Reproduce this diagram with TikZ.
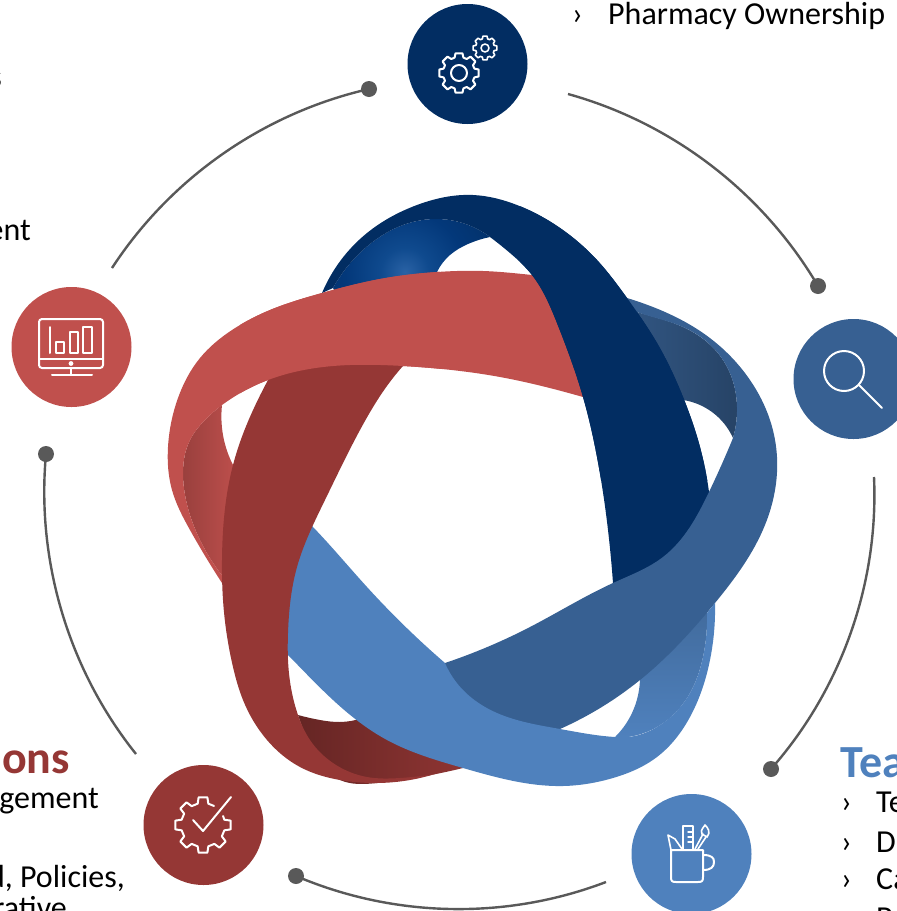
\documentclass[tikz,border=0pt]{standalone}
\usepackage{fontspec}
\setmainfont{Carlito}
\usetikzlibrary{shadings,hobby}
\definecolor{navyband}{HTML}{022D62}
\definecolor{steelband}{HTML}{376092}
\definecolor{blueband}{HTML}{4F81BD}
\definecolor{redband}{HTML}{C0504D}
\definecolor{darkband}{HTML}{953735}
\definecolor{ringgrey}{HTML}{595959}
\definecolor{navyA}{HTML}{2A62A5}
\definecolor{navyB}{HTML}{0F4A8E}
\definecolor{navyC}{HTML}{03387A}
\definecolor{navyD}{HTML}{032C5C}
\definecolor{navyE}{HTML}{021C3E}
\pgfdeclareradialshading{navyspot}{\pgfpointorigin}{color(0bp)=(navyA); color(6bp)=(navyB); color(15bp)=(navyC); color(32bp)=(navyD); color(50bp)=(navyE)}
\tikzset{
  ring/.style={draw=ringgrey,line width=2.4pt},
  dotmark/.style={circle,fill=ringgrey,minimum size=16pt,inner sep=0pt},
  badge/.style={circle,minimum size=120pt,inner sep=0pt},
  icon/.style={draw=white,line width=2pt,line join=round,line cap=round},
  txt/.style={inner sep=0pt,font=\fontsize{32}{34}\selectfont,text=black},
  headtxt/.style={inner sep=0pt,font=\fontsize{46}{48}\selectfont\bfseries}
}
\def\redpath{(560,278) .. (532,275) .. (483,271) .. (437,272) .. (380,279) .. (322,293) .. (270,310) .. (232,330) .. (200,358) .. (178,398) .. (168,447) .. (172,490) .. (190,530) .. (222,583) -- (224,578) .. (200,540) .. (186,500) .. (183,473) .. (190,440) .. (205,420) .. (222,405) -- (222,405) .. (268,380) .. (350,365) .. (403,366) .. (500,377) .. (583,397) .. (620,408) -- cycle}
\def\navypath{(322,293) .. (367,233) .. (417,205) .. (473,195) .. (517,205) .. (567,233) .. (597,260) .. (627,298) .. (657,343) .. (683,397) .. (700,447) .. (709,492) -- (705,560) -- (620,600) -- (613,590) -- (613,583) .. (608,530) .. (597,457) .. (583,397) .. (557,323) .. (532,275) .. (510,253) .. (490,237) -- (490,237) .. (437,219) .. (403,225) .. (363,250) .. (333,288) -- cycle}
\begin{document}
\begin{tikzpicture}[x=1pt,y=-1pt,use Hobby shortcut]
\useasboundingbox (0,0) rectangle (897,911);
\clip (0,0) rectangle (897,911);
% back (shaded) faces of the ribbons
\begin{scope}
\clip (333,288) .. (363,250) .. (403,225) .. (437,219) .. (490,237) -- (490,237) .. (468,244) .. (450,255) .. (437,272) -- (420,290) -- (340,300) -- cycle;
\shade[shading=navyspot] (405,272) circle (100);
\end{scope}
\shade[left color=redband!80!black,right color=redband] (222,405) .. (224,440) .. (233,465) -- (240,470) -- (235,590) -- (222,583) -- (224,578) .. (200,540) .. (186,500) .. (183,473) .. (190,440) .. (205,420) .. (222,405) -- cycle;
\shade[left color=steelband!90!black,right color=steelband!70!black] (625,308) .. (637,312) .. (683,327) .. (723,360) .. (737,407) .. (733,438) -- (733,438) .. (712,412) .. (683,400) -- (660,395) -- cycle;
\shade[shading angle=60,top color=blueband!82!black,bottom color=blueband] (615,737) .. (630,717) .. (639,690) .. (640,675) -- (700,600) -- (707,613) .. (703,657) .. (690,693) .. (657,727) .. (628,737) -- cycle;
\shade[left color=darkband!68!black,right color=darkband] (298,715) .. (320,720) .. (340,722) .. (363,718) .. (385,708) -- (490,750) -- (463,768) .. (420,777) .. (377,783) .. (340,780) .. (310,745) .. (298,715) -- cycle;
% front faces
\fill[redband] \redpath;
\fill[navyband] \navypath;
\fill[steelband] (605,292) .. (627,298) .. (665,312) .. (703,333) .. (750,380) .. (770,420) .. (777,457) .. (765,525) .. (715,603) .. (640,680) .. (560,729) -- (500,735) -- (430,672) -- (445,663) .. (530,627) .. (613,583) .. (663,557) .. (709,492) .. (733,438) -- (733,438) .. (737,407) .. (723,360) .. (683,327) .. (637,312) .. (625,307) -- cycle;
\begin{scope}
\clip (520,190) rectangle (715,480);
\fill[navyband] \navypath;
\end{scope}
\fill[blueband] (298,512) .. (313,527) .. (367,587) .. (445,663) -- (445,663) .. (463,690) .. (497,713) .. (560,729) .. (615,737) .. (628,737) .. (657,727) .. (690,693) .. (703,657) .. (707,613) -- (715,603) .. (710,660) .. (690,717) .. (657,757) .. (613,778) .. (563,786) .. (463,768) .. (387,740) .. (333,700) .. (288,655) .. (268,635) -- cycle;
\fill[darkband] (285,350) .. (268,380) .. (233,465) .. (222,560) .. (223,600) .. (233,667) .. (243,700) .. (267,740) .. (300,767) .. (340,780) .. (377,783) .. (410,780) .. (435,774) -- (435,774) .. (400,778) .. (367,777) .. (333,763) .. (310,740) .. (298,715) .. (288,660) .. (288,633) .. (297,567) .. (325,500) .. (360,430) .. (403,366) .. (425,345) -- cycle;
\begin{scope}
\clip (240,270) rectangle (440,400);
\fill[redband] \redpath;
\end{scope}
% outer ring
\node[dotmark] (d1) at (369,89) {};
\node[dotmark] (d2) at (818,286) {};
\node[dotmark] (d3) at (771,769) {};
\node[dotmark] (d4) at (296,876) {};
\node[dotmark] (d5) at (46,454) {};
\coordinate (e1) at (112,268);
\coordinate (e2) at (568,94);
\coordinate (e3) at (874,477);
\coordinate (e4) at (606,882);
\coordinate (e5) at (136,754);
\draw[ring] (d1.center) to[bend right=22,looseness=.88] (e1);
\draw[ring] (d2.center) to[bend right=22,looseness=.88] (e2);
\draw[ring] (d3.center) to[bend right=22,looseness=.88] (e3);
\draw[ring] (d4.center) to[bend right=22,looseness=.88] (e4);
\draw[ring] (d5.center) to[bend right=22,looseness=.88] (e5);
% badges
\node[badge,fill=navyband] (bgear) at (467.5,64) {};
\node[badge,fill=steelband] (bglass) at (853.5,379) {};
\node[badge,fill=blueband] (bmug) at (691.5,854) {};
\node[badge,fill=darkband] (bcheck) at (203.5,825) {};
\node[badge,fill=redband] (bscreen) at (71.5,347) {};
% gears
\begin{scope}[shift={(459,73)}]
\draw[icon] (-16:16) \foreach \a in {0,45,...,315} {-- (\a-16:16) -- (\a-10:20) -- (\a+10:20) -- (\a+16:16)} -- cycle;
\draw[icon] (0,0) circle (8);
\end{scope}
\begin{scope}[shift={(485,48)}]
\draw[icon,line width=1.6pt] (-16:9.5) \foreach \a in {0,45,...,315} {-- (\a-16:9.5) -- (\a-10:12) -- (\a+10:12) -- (\a+16:9.5)} -- cycle;
\draw[icon,line width=1.6pt] (0,0) circle (4);
\end{scope}
% magnifier
\draw[icon] (844,371) circle (20);
\draw[icon] (859,385) -- (882,408);
% mug
\draw[icon] (671,850) -- (671,877) .. controls (671,881) and (672,882) .. (676,882) -- (698,882) .. controls (702,882) and (703,881) .. (703,877) -- (703,850) -- cycle;
\draw[icon] (703,855) .. controls (712,855) and (714,858) .. (714,862) .. controls (714,867) and (711,870) .. (703,870);
\draw[icon,line width=1.6pt] (671,850) -- (668,835) -- (675,839) -- (682,849);
\draw[icon,line width=1.6pt] (683,849) -- (683,826) -- (693,826) -- (693,849);
\draw[icon,line width=1.4pt] (693,832) -- (688,832) (693,837) -- (688,837) (693,842) -- (688,842);
\draw[icon,line width=1.6pt] (695,849) -- (703,834) (698,849) -- (706,837);
\draw[icon,line width=1.6pt] (702,834) .. controls (700,829) and (704,828) .. (705,825) .. controls (708,828) and (711,832) .. (707,837) -- cycle;
% gear with tick
\begin{scope}[shift={(203,825)}]
\draw[icon] (-24:22) \foreach \a in {0,45,...,270} {-- (\a-14:22) -- (\a-9:28) -- (\a+9:28) -- (\a+14:22)} -- (-60:22);
\end{scope}
\draw[icon] (193,820) -- (203,831) -- (231,797);
% screen
\draw[icon,rounded corners=3pt] (39,319) rectangle (103,368);
\draw[icon] (39,359) -- (103,359);
\fill[white] (71,363.5) circle (2.4);
\draw[icon] (71,368) -- (71,375) (52,375) -- (92,375);
\draw[icon] (50,327) -- (50,353);
\draw[icon] (56,342) rectangle (64,353);
\draw[icon] (70,332) rectangle (78,353);
\draw[icon] (83,327) rectangle (92,353);
% texts
\node[txt,anchor=base west] (t1) at (572,24) {›};
\node[txt,anchor=base west] (t2) at (608,24) {Pharmacy Ownership};
\node[txt,anchor=base east] (t3) at (2,87) {s};
\node[txt,anchor=base east] (t4) at (31,240) {ent};
\node[headtxt,anchor=base east,text=darkband] (t5) at (70,773) {ons};
\node[txt,anchor=base east] (t6) at (99,808) {gement};
\node[txt,anchor=base east] (t7) at (125,887) {d, Policies,};
\node[txt,anchor=base east] (t8) at (67,918) {rative};
\node[headtxt,anchor=base west,text=blueband] (t9) at (840,777) {Tea};
\node[txt,anchor=base west] (b1) at (841,812) {›};
\node[txt,anchor=base west] (l1) at (876,812) {Te};
\node[txt,anchor=base west] (b2) at (841,852) {›};
\node[txt,anchor=base west] (l2) at (876,852) {D};
\node[txt,anchor=base west] (b3) at (841,889) {›};
\node[txt,anchor=base west] (l3) at (876,889) {Ca};
\node[txt,anchor=base west] (l4) at (876,928) {P};
\end{tikzpicture}
\end{document}
